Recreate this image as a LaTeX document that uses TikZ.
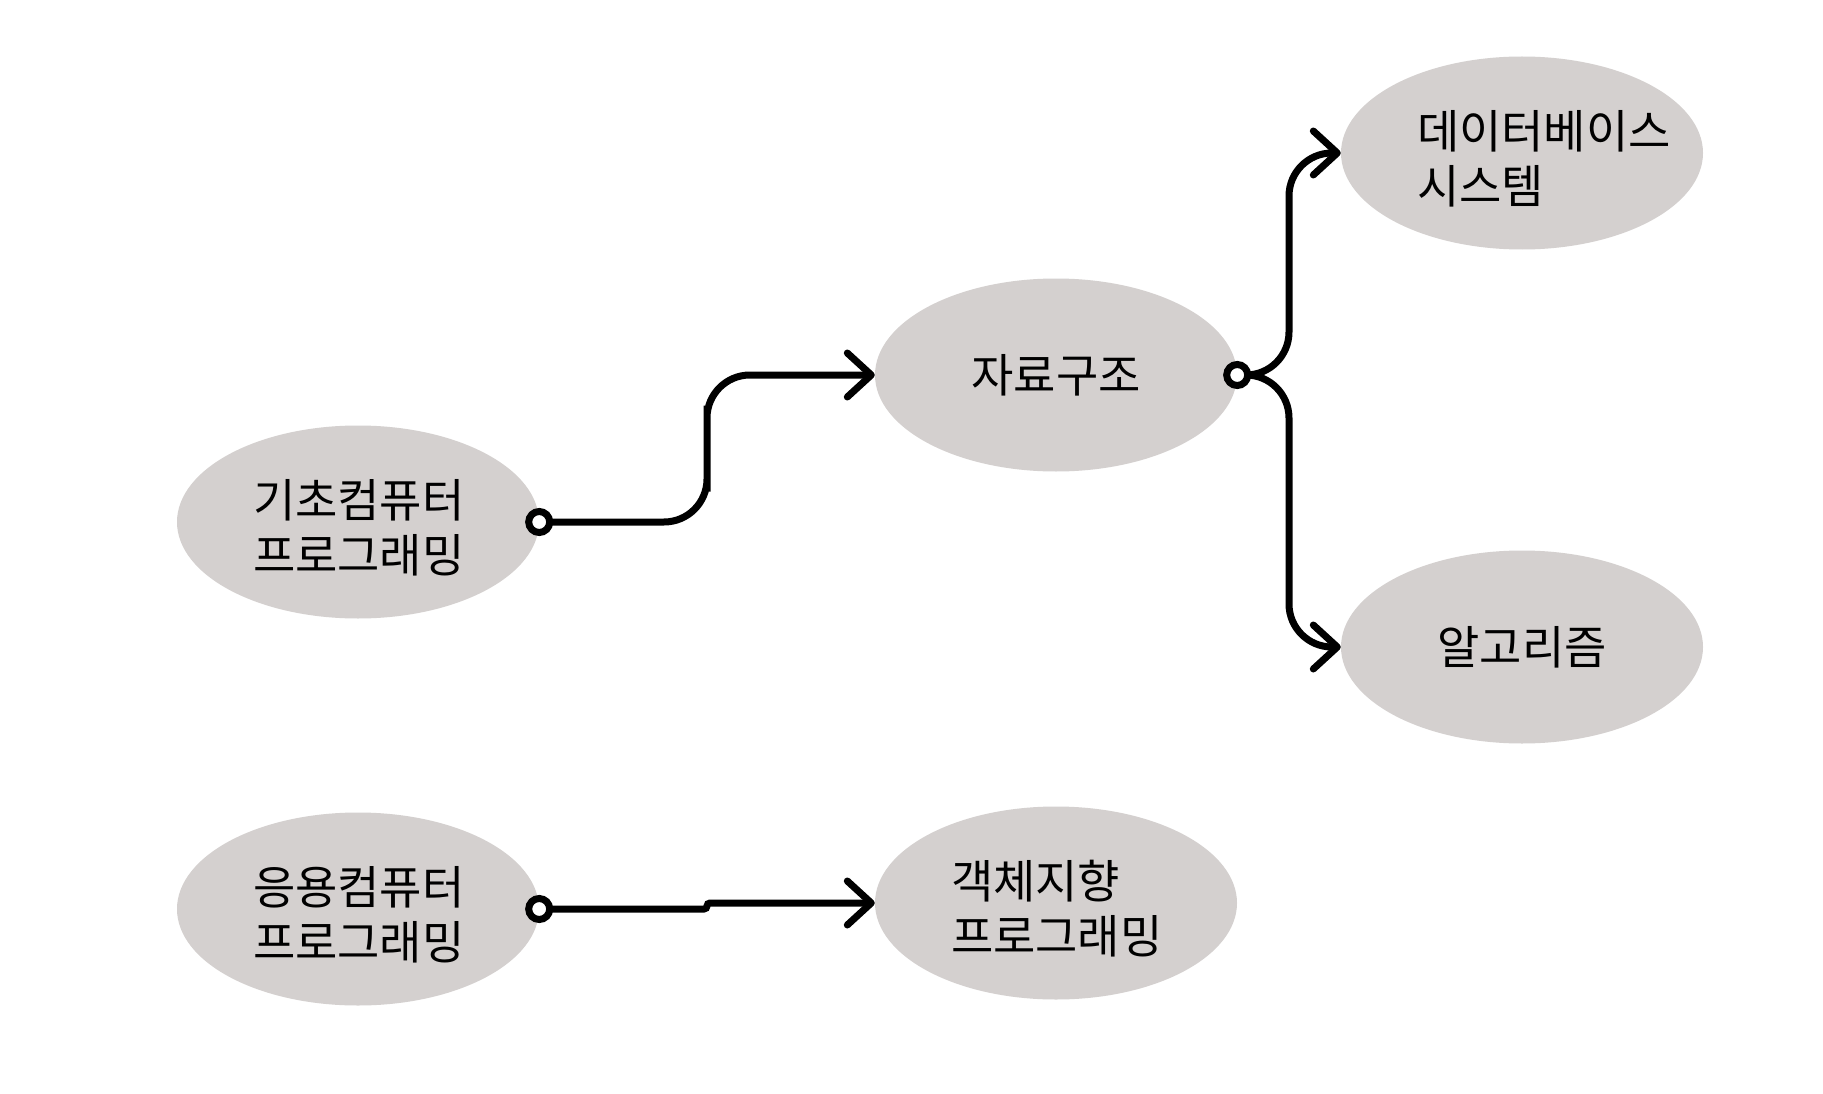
\documentclass[tikz,border=0pt]{standalone}
\usepackage{fontspec}
\setmainfont{Noto Sans CJK KR}
\usetikzlibrary{shapes.geometric,arrows.meta,calc}

\definecolor{ellipsegray}{RGB}{212,208,207}

\begin{document}
\begin{tikzpicture}[x=1pt,y=-1pt,
    course/.style={ellipse, fill=ellipsegray, minimum width=362pt, minimum height=193pt,
      inner sep=0pt, font=\fontsize{46}{55}\selectfont},
    twolines/.style={course, text width=210pt, align=left,
      execute at begin node={\rule{0pt}{50pt}}},
    link/.style={line width=7pt, rounded corners=43pt,
      -{Straight Barb[length=24pt,width=44pt,line cap=round,line join=round]}},
    port/.style={draw=black, fill=white, line width=7pt}]

  % Sfondo
  \fill[white] (0,0) rectangle (1823,1094);

  % Ellissi
  \node[twolines] (basic) at (358,522) {기초컴퓨터\\프로그래밍};
  \node[course] (datastruct) at (1056,375) {자료구조};
  \node[twolines] (database) at (1522,153) {데이터베이스\\시스템};
  \node[course] (algorithm) at (1522,647) {알고리즘};
  \node[twolines] (applied) at (358,909) {응용컴퓨터\\프로그래밍};
  \node[twolines] (objoriented) at (1056,903) {객체지향\\프로그래밍};
  \coordinate (jog) at ($(applied.east)!0.5!(objoriented.west)$);

  % Collegamenti
  \draw[link] (basic.east) -| ($(basic.east)!0.5!(datastruct.west)$) |- (datastruct.west);
  \draw[link] (datastruct.east) -| ($(datastruct.east)!0.5!(database.west)$) |- (database.west);
  \draw[link] (datastruct.east) -| ($(datastruct.east)!0.5!(algorithm.west)$) |- (algorithm.west);
  \draw[link, rounded corners=3pt] (applied.east) -| (jog |- objoriented.west) -- (objoriented.west);

  % Cerchietti
  \draw[port] (basic.east) circle[radius=10.5];
  \draw[port] (datastruct.east) circle[radius=10.5];
  \draw[port] (applied.east) circle[radius=10.5];
\end{tikzpicture}
\end{document}
